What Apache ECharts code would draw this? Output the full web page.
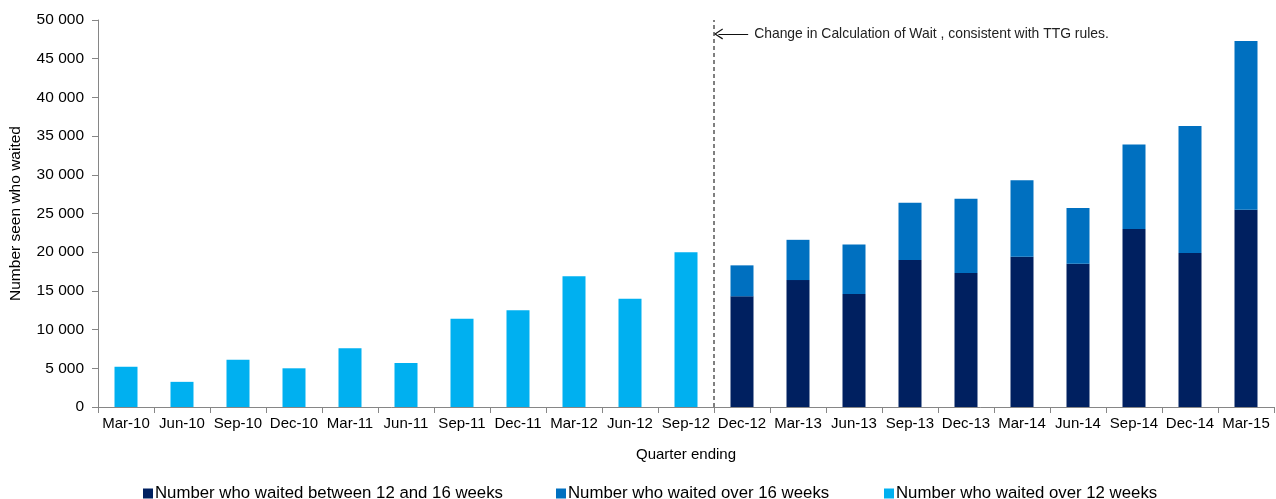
<!DOCTYPE html>
<html>
<head>
<meta charset="utf-8">
<script src="https://cdn.jsdelivr.net/npm/echarts@6/dist/echarts.min.js"></script>
<style>
  html, body { margin: 0; padding: 0; background: #fff; }
  #chart { width: 1276px; height: 499px; }
</style>
</head>
<body>
<div id="chart"></div>
<script>
const quarters = ['Mar-10', 'Jun-10', 'Sep-10', 'Dec-10', 'Mar-11', 'Jun-11', 'Sep-11', 'Dec-11',
  'Mar-12', 'Jun-12', 'Sep-12', 'Dec-12', 'Mar-13', 'Jun-13', 'Sep-13', 'Dec-13', 'Mar-14',
  'Jun-14', 'Sep-14', 'Dec-14', 'Mar-15'];

// old rule: waited over 12 weeks (up to Sep-12)
const over12 = [5200, 3250, 6100, 5000, 7600, 5700, 11400, 12500, 16900, 14000, 20000,
  null, null, null, null, null, null, null, null, null, null];
// new rule (TTG), from Dec-12
const between12and16 = [null, null, null, null, null, null, null, null, null, null, null,
  14300, 16400, 14600, 19000, 17300, 19400, 18500, 23000, 19900, 25500];
const over16 = [null, null, null, null, null, null, null, null, null, null, null,
  4000, 5200, 6400, 7400, 9600, 9900, 7200, 10900, 16400, 21800];

const yTicks = { min: 0, max: 50000, interval: 5000 };
const changeAt = 'Dec-12';
const noteText = 'Change in Calculation of Wait , consistent with TTG rules.';
const noteLevel = 48200;

const names = ['Number who waited between 12 and 16 weeks', 'Number who waited over 16 weeks',
  'Number who waited over 12 weeks'];
const colors = ['#002060', '#0070C0', '#00B0F0'];

const font = '"Liberation Sans", Arial, sans-serif';
const axisGrey = '#868686';
const changeX = quarters.indexOf(changeAt); // boundary before this category

const fmt = v => String(v).replace(/\B(?=(\d{3})+(?!\d))/g, ' ');

// open chevron, drawn pointing up (markLine rotates it along the line)
const chevron = 'path://M50,0 L100,86 L90,92 L50,22 L10,92 L0,86 Z';

const chart = echarts.init(document.getElementById('chart'));

const legendAt = [138, 551, 879];

chart.setOption({
  animation: false,
  textStyle: { fontFamily: font },
  grid: { left: 96, right: 2, top: 20, bottom: 92, containLabel: false },
  legend: names.map((n, i) => ({
    data: [n],
    left: legendAt[i],
    top: 480,
    itemWidth: 10,
    itemHeight: 10,
    icon: 'rect',
    itemGap: 2,
    textStyle: { fontFamily: font, fontSize: 16.8, color: '#000', padding: [0, 0, 0, -3] }
  })),
  xAxis: [
    {
      type: 'category',
      data: quarters,
      name: 'Quarter ending',
      nameLocation: 'middle',
      nameGap: 40,
      nameTextStyle: { fontFamily: font, fontSize: 15, color: '#000' },
      axisLine: { lineStyle: { color: axisGrey } },
      axisTick: { show: true, alignWithLabel: false, length: 6, lineStyle: { color: axisGrey } },
      axisLabel: { fontFamily: font, fontSize: 15, color: '#000', margin: 9, interval: 0 }
    },
    { type: 'value', min: 0, max: quarters.length, show: false }
  ],
  yAxis: {
    type: 'value',
    min: yTicks.min,
    max: yTicks.max,
    interval: yTicks.interval,
    name: 'Number seen who waited',
    nameLocation: 'middle',
    nameGap: 74,
    nameTextStyle: { fontFamily: font, fontSize: 15.5, color: '#000' },
    axisLine: { show: true, lineStyle: { color: axisGrey } },
    axisTick: { show: true, length: 6, lineStyle: { color: axisGrey } },
    axisLabel: { fontFamily: font, fontSize: 15.5, color: '#000', margin: 14, formatter: fmt },
    splitLine: { show: false }
  },
  series: [
    { name: names[0], type: 'bar', stack: 'all', data: between12and16, barWidth: 23,
      itemStyle: { color: colors[0] } },
    { name: names[1], type: 'bar', stack: 'all', data: over16, barWidth: 23,
      itemStyle: { color: colors[1] } },
    { name: names[2], type: 'bar', stack: 'all', data: over12, barWidth: 23,
      itemStyle: { color: colors[2] } },
    {
      name: 'change', type: 'line', xAxisIndex: 1, yAxisIndex: 0,
      data: [[changeX, yTicks.min], [changeX, yTicks.max]],
      symbol: 'none', silent: true,
      lineStyle: { color: '#000', width: 1, type: [4, 3] },
      markLine: {
        silent: true,
        symbol: ['none', chevron],
        symbolSize: [11, 9],
        symbolOffset: [0, 0],
        lineStyle: { color: '#111', width: 1, type: 'solid' },
        label: {
          show: true, position: 'start', distance: 6,
          formatter: noteText, fontFamily: font, fontSize: 13.9, color: '#222'
        },
        data: [[{ coord: [changeX + 0.61, noteLevel] }, { coord: [changeX + 0.08, noteLevel] }]]
      }
    }
  ]
});
</script>
</body>
</html>
